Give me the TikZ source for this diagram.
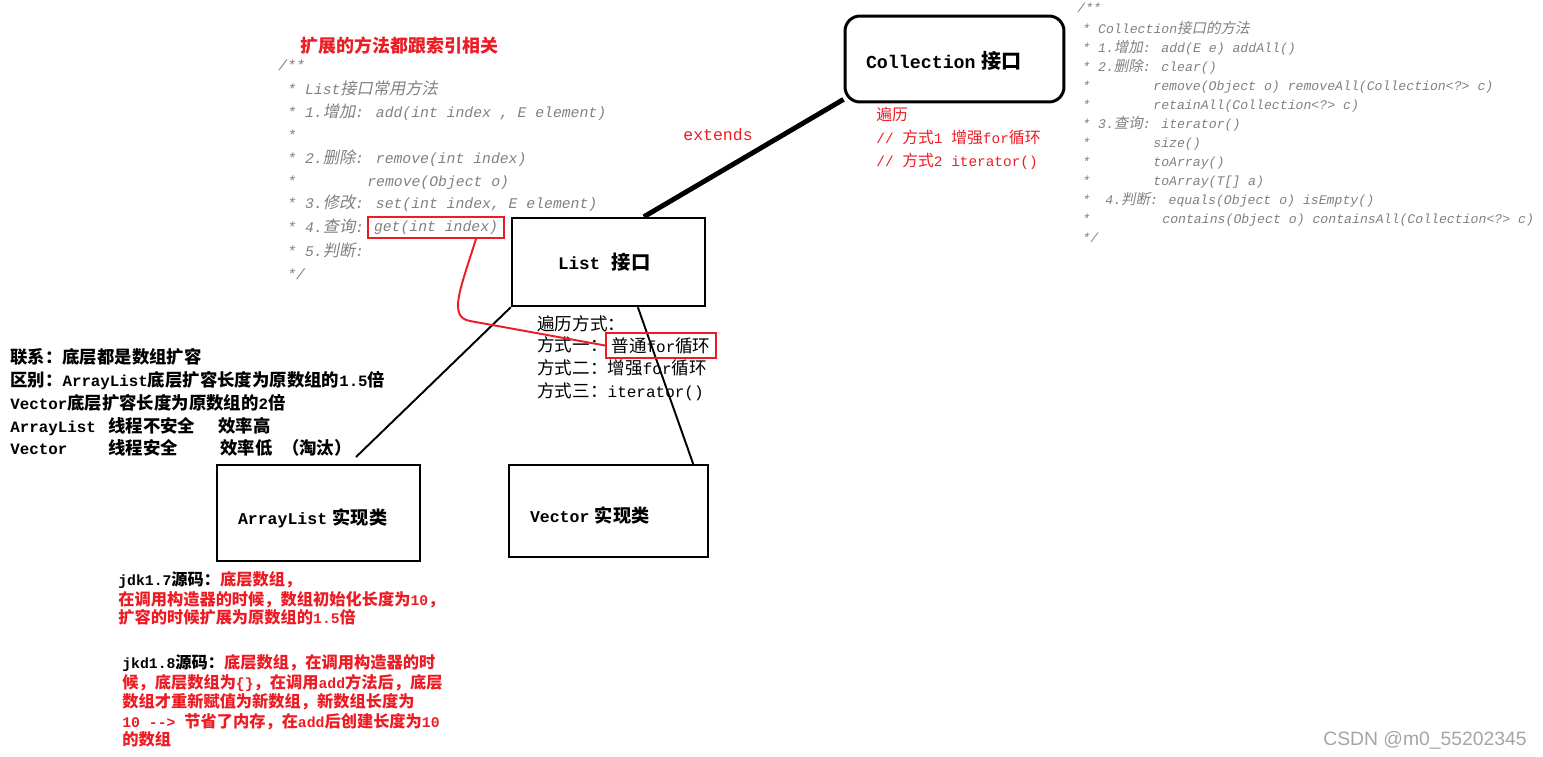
\documentclass[tikz,border=0pt]{standalone}
\usepackage{fontspec}
\setmainfont{Liberation Mono}
\newfontfamily\cjkfont{Noto Sans CJK SC}[Scale=1.1, ItalicFont=*, ItalicFeatures={FakeSlant=0.2}]
\newfontfamily\wmfont{Liberation Sans}
\usetikzlibrary{positioning, calc}
\definecolor{paintred}{RGB}{237, 28, 36}
\definecolor{cmtgray}{RGB}{128, 128, 128}
\definecolor{wmgray}{RGB}{165, 165, 165}

% CJK characters switch to the CJK font on their own
\XeTeXinterchartokenstate=1
\newXeTeXintercharclass\cjkclass
\newcount\cjkc
\cjkc="3000 \loop \XeTeXcharclass\cjkc=\cjkclass \ifnum\cjkc<"303F \advance\cjkc by 1 \repeat
\cjkc="4E00 \loop \XeTeXcharclass\cjkc=\cjkclass \ifnum\cjkc<"9FFF \advance\cjkc by 1 \repeat
\cjkc="FF00 \loop \XeTeXcharclass\cjkc=\cjkclass \ifnum\cjkc<"FFEF \advance\cjkc by 1 \repeat
\XeTeXinterchartoks 0 \cjkclass = {\cjkfont}
\XeTeXinterchartoks 4095 \cjkclass = {\cjkfont}
\XeTeXinterchartoks \cjkclass 0 = {\rmfamily}
\XeTeXinterchartoks \cjkclass 4095 = {\rmfamily}

\begin{document}
\begin{tikzpicture}[x=0.02cm, y=-0.02cm,
  box/.style={draw, line width=1.1pt, align=left, inner xsep=0.42cm, inner ysep=0pt, text height=0.55cm, text depth=0.1cm, font=\bfseries\fontsize{9.4}{11}\selectfont},
  txt/.style={anchor=base west, inner sep=0pt},
  cmt/.style={txt, text=cmtgray, font=\itshape\fontsize{8.4}{10}\selectfont},
  cmtsmall/.style={txt, text=cmtgray, font=\itshape\fontsize{7.5}{9}\selectfont},
  rednote/.style={txt, text=paintred, font=\fontsize{8.2}{10}\selectfont},
  blacknote/.style={txt, font=\bfseries\fontsize{9}{11}\selectfont},
  jdknote/.style={txt, font=\bfseries\fontsize{8.4}{10}\selectfont},
  redbox/.style={draw=paintred, line width=1.1pt, inner sep=0pt},
  link/.style={line width=1.1pt},
  redlink/.style={draw=paintred, line width=1.1pt}]
  \useasboundingbox (0,0) rectangle (1543,757);

  % ---- Boxes ----
  \node[box, rounded corners=0.3cm, line width=1.7pt, text width=3.54cm, minimum height=1.72cm, text height=0.5cm, font=\bfseries\fontsize{10.4}{12}\selectfont] (collection) at (954.5,59) {Collection 接口};
  \node[box, line width=1.4pt, text width=3.02cm, minimum height=1.76cm, text height=0.4cm, font=\bfseries\fontsize{10}{12}\selectfont] (list) at (608.5,262) {\hspace{0.5cm}List\ \ 接口};
  \node[box, text width=3.22cm, minimum height=1.92cm] (arraylist) at (318.5,513) {ArrayList 实现类};
  \node[box, text width=3.14cm, minimum height=1.84cm] (vector) at (608.5,511) {Vector 实现类};

  % ---- Connectors ----
  \draw[line width=2.8pt] (list.52) -- (collection.200);
  \node[txt, text=paintred, font=\fontsize{9.4}{11}\selectfont] (extends) at (683,141) {extends};
  \coordinate (alend) at (356,457);
  \draw[link] (list.south west) -- (alend);
  \draw[link] (list.303) -- (vector.29);

  % ---- List methods (comment) ----
  \node[txt, text=paintred, font=\bfseries\fontsize{9.3}{11}\selectfont] (exttitle) at (300,53) {扩展的方法都跟索引相关};
  \foreach \x/\y/\t [count=\i] in {278/71/{/**}, 287/95/{* List接口常用方法}, 287/118/{* 1.增加: add(int index , E element)},
      287/141/{*}, 287/164/{* 2.删除: remove(int index)}, 287/187/{*}, 367/187/{remove(Object o)},
      287/209/{* 3.修改: set(int index, E element)}, 287/233/{* 4.查询:}, 287/256/{* 5.判断:}, 287/279/{*/}}
    \node[cmt] (lc\i) at (\x,\y) {\t};
  \node[redbox, minimum width=2.72cm, minimum height=0.42cm, text=cmtgray, font=\itshape\fontsize{8.4}{10}\selectfont] (getbox) at (436,227.5) {get(int index)};

  % ---- Collection methods (comment) ----
  \foreach \x/\y/\t [count=\i] in {1077/13/{/**}, 1082/34/{* Collection接口的方法}, 1082/53/{* 1.增加: add(E e) addAll()},
      1082/72/{* 2.删除: clear()}, 1082/91/{*}, 1153/91/{remove(Object o) removeAll(Collection<?> c)},
      1082/110/{*}, 1153/110/{retainAll(Collection<?> c)}, 1082/129/{* 3.查询: iterator()},
      1082/148/{*}, 1153/148/{size()}, 1082/167/{*}, 1153/167/{toArray()}, 1082/186/{*}, 1153/186/{toArray(T[] a)},
      1082/205/{*}, 1105/205/{4.判断: equals(Object o) isEmpty()},
      1082/224/{*}, 1162/224/{contains(Object o) containsAll(Collection<?> c)}, 1082/242/{*/}}
    \node[cmtsmall] (rc\i) at (\x,\y) {\t};

  % traversal of Collection
  \foreach \y/\t [count=\i] in {121/{遍历}, 144/{// 方式1 增强for循环}, 167/{// 方式2 iterator()}}
    \node[rednote] (cit\i) at (876,\y) {\t};

  % ---- List traversal ----
  \foreach \y/\t [count=\i] in {330/{遍历方式：}, 351/{方式一：}, 374/{方式二：增强for循环}, 397/{方式三：iterator()}}
    \node[txt, font=\fontsize{9.1}{11}\selectfont] (lit\i) at (537,\y) {\t};
  \node[redbox, minimum width=2.2cm, minimum height=0.5cm, font=\fontsize{9.1}{11}\selectfont] (forbox) at (661,345.5) {普通for循环};
  \draw[redlink] ($(getbox.south)+(40,0)$) .. controls (460,290) and (448,317) .. (470,321) -- (forbox.west);

  % ---- ArrayList vs Vector ----
  \foreach \x/\y/\t [count=\i] in {10/363/{联系：底层都是数组扩容}, 10/386/{区别：ArrayList底层扩容长度为原数组的1.5倍},
      10/409/{Vector底层扩容长度为原数组的2倍}, 10/432/{ArrayList}, 108/432/{线程不安全}, 218/432/{效率高},
      10/454/{Vector}, 108/454/{线程安全}, 220/454/{效率低 （淘汰）}}
    \node[blacknote] (cmp\i) at (\x,\y) {\t};

  % ---- Source notes ----
  \node[jdknote] (jdk7) at (118,585) {jdk1.7源码：{\color{paintred}底层数组，}};
  \foreach \y/\t [count=\i] in {605/{在调用构造器的时候，数组初始化长度为10，}, 623/{扩容的时候扩展为原数组的1.5倍}}
    \node[jdknote, text=paintred] (jdks\i) at (118,\y) {\t};
  \node[jdknote] (jdk8) at (122,668) {jkd1.8源码：{\color{paintred}底层数组，在调用构造器的时}};
  \foreach \y/\t [count=\i] in {688/{候，底层数组为\{\}，在调用add方法后，底层}, 707/{数组才重新赋值为新数组，新数组长度为},
      727/{10 -{}-> 节省了内存，在add后创建长度为10}, 745/{的数组}}
    \node[jdknote, text=paintred] (jdke\i) at (122,\y) {\t};

  % watermark
  \node[txt, text=wmgray, font=\wmfont\fontsize{11}{13}\selectfont] (mark) at (1323,745) {CSDN @m0\_55202345};
\end{tikzpicture}
\end{document}
